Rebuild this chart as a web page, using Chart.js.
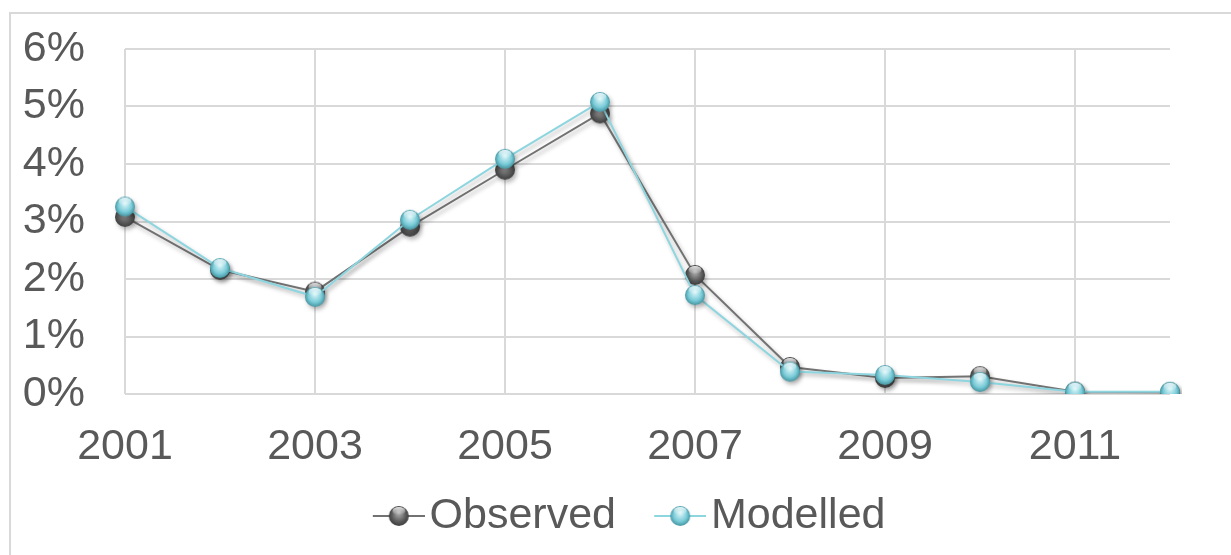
<!DOCTYPE html>
<html>
<head>
<meta charset="utf-8">
<title>Observed vs Modelled</title>
<script src="https://cdn.jsdelivr.net/npm/chart.js@4.4.1/dist/chart.umd.min.js"></script>
<style>
  html, body { margin: 0; padding: 0; background: #ffffff; overflow: hidden; width: 1231px; height: 555px; }
  #frame { position: absolute; left: 9px; top: 12px; width: 2000px; height: 2000px; border: 2px solid #d9d9d9; box-sizing: border-box; }
  #chart { position: absolute; left: 9px; top: 0px; }
</style>
</head>
<body>
<div id="frame"></div>
<canvas id="chart" width="1242" height="555"></canvas>
<script>
// Years on the category axis
const years = ['2001', '2002', '2003', '2004', '2005', '2006', '2007', '2008', '2009', '2010', '2011', '2012'];
// Rates in percent
const observed = [3.08, 2.16, 1.78, 2.91, 3.90, 4.88, 2.07, 0.47, 0.28, 0.31, 0.04, 0.03];
const modelled = [3.26, 2.19, 1.69, 3.03, 4.09, 5.08, 1.72, 0.39, 0.33, 0.21, 0.04, 0.04];
// Y-axis tick values (percent)
const yTicks = [0, 1, 2, 3, 4, 5, 6];

const TEXT = '#595959';
const GRID = '#d9d9d9';
const FONT = { family: "'Liberation Sans', Arial, sans-serif", size: 43 };

// Glossy sphere marker; optionally with a line segment for the legend key
function sphere(base, light, dark, lineColor, keyWidth, lineLen) {
  const w = keyWidth || 24, h = 24;
  const c = document.createElement('canvas');
  c.width = w; c.height = h;
  const g = c.getContext('2d');
  const cy = 12, r = 10;
  let cx = w / 2;
  if (keyWidth) {
    const x0 = w - lineLen;
    cx = x0 + lineLen / 2;
    g.strokeStyle = lineColor; g.lineWidth = 2;
    g.beginPath(); g.moveTo(x0, cy); g.lineTo(w, cy); g.stroke();
  }
  const grd = g.createRadialGradient(cx, cy - 3, 1, cx, cy, r + 0.5);
  grd.addColorStop(0, light);
  grd.addColorStop(0.6, base);
  grd.addColorStop(1, dark);
  g.fillStyle = grd;
  g.beginPath(); g.arc(cx, cy, r, 0, Math.PI * 2); g.fill();
  const gl = g.createLinearGradient(0, cy - 9, 0, cy - 1);
  gl.addColorStop(0, 'rgba(255,255,255,0.85)');
  gl.addColorStop(1, 'rgba(255,255,255,0)');
  g.fillStyle = gl;
  g.beginPath(); g.ellipse(cx, cy - 5, 6.5, 4, 0, 0, Math.PI * 2); g.fill();
  return c;
}

const OBS_LINE = '#727272';
const MOD_LINE = '#8dd5df';
const obsDot = sphere('#5e5e5e', '#a9a9a9', '#3a3a3a');
const modDot = sphere('#79cbd8', '#d4f2f6', '#3f8f9c');
const obsKey = sphere('#5e5e5e', '#a9a9a9', '#3a3a3a', OBS_LINE, 81, 52);
const modKey = sphere('#79cbd8', '#d4f2f6', '#3f8f9c', MOD_LINE, 81, 52);

// Soft drop shadow under each series
const seriesShadow = {
  id: 'seriesShadow',
  beforeDatasetDraw(chart) {
    const c = chart.ctx;
    c.save();
    c.shadowColor = 'rgba(0,0,0,0.28)';
    c.shadowBlur = 4;
    c.shadowOffsetX = 2;
    c.shadowOffsetY = 3;
  },
  afterDatasetDraw(chart) { chart.ctx.restore(); }
};

new Chart(document.getElementById('chart'), {
  type: 'line',
  data: {
    labels: years,
    datasets: [
      {
        label: 'Modelled', data: modelled, order: 0,
        borderColor: MOD_LINE, borderWidth: 2, tension: 0,
        pointStyle: modDot, pointRadius: 10, pointHoverRadius: 10
      },
      {
        label: 'Observed', data: observed, order: 1,
        borderColor: OBS_LINE, borderWidth: 2, tension: 0,
        pointStyle: obsDot, pointRadius: 10, pointHoverRadius: 10
      }
    ]
  },
  options: {
    responsive: false,
    animation: false,
    devicePixelRatio: 1,
    layout: { padding: { left: 0, right: 14, top: 49, bottom: 7.5 } },
    plugins: {
      tooltip: { enabled: false },
      legend: {
        position: 'bottom',
        align: 'center',
        labels: {
          usePointStyle: true,
          pointStyleWidth: 47.5,
          padding: 26,
          color: TEXT,
          font: FONT,
          generateLabels: () => [
            { text: 'Observed', pointStyle: obsKey, fontColor: TEXT, datasetIndex: 1, hidden: false, lineWidth: 0 },
            { text: 'Modelled', pointStyle: modKey, fontColor: TEXT, datasetIndex: 0, hidden: false, lineWidth: 0 }
          ]
        }
      }
    },
    scales: {
      x: {
        type: 'category',
        offset: false,
        border: { display: false },
        grid: {
          drawTicks: false,
          lineWidth: 2,
          color: (ctx) => (ctx.index % 2 === 0 && ctx.index < years.length - 1) ? GRID : 'rgba(0,0,0,0)'
        },
        ticks: {
          autoSkip: false,
          maxRotation: 0,
          padding: 27,
          color: TEXT,
          font: FONT,
          callback: (v, i) => (i % 2 === 0 ? years[i] : '')
        },
        afterFit: (s) => { s.height = 74.5; }
      },
      y: {
        min: yTicks[0],
        max: yTicks[yTicks.length - 1],
        border: { display: false },
        grid: { drawTicks: false, lineWidth: 2, color: GRID },
        ticks: {
          stepSize: 1,
          padding: 40,
          color: TEXT,
          font: FONT,
          callback: (v) => (yTicks.includes(v) ? v + '%' : '')
        },
        afterFit: (s) => { s.width = 116; s.paddingTop = 0; s.paddingBottom = 0; }
      },
      yRight: {
        position: 'right',
        display: true,
        border: { display: false },
        grid: { display: false },
        ticks: { display: false },
        afterFit: (s) => { s.width = 67; s.paddingTop = 0; s.paddingBottom = 0; }
      }
    }
  },
  plugins: [seriesShadow]
});
</script>
</body>
</html>
